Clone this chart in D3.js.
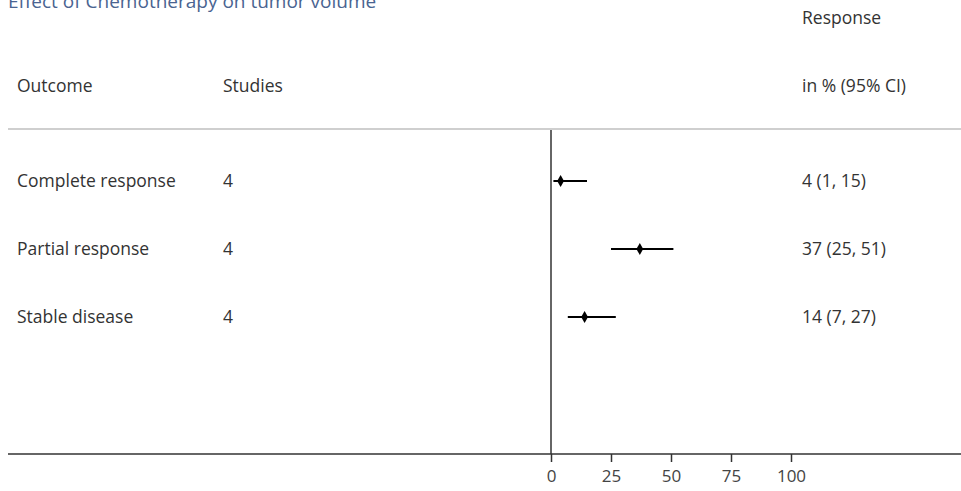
<!DOCTYPE html>
<html>
<head>
<meta charset="utf-8">
<script src="https://cdn.jsdelivr.net/npm/d3@7"></script>
<style>
  html, body { margin: 0; padding: 0; background: #fff; }
  svg { display: block; font-family: "Open Sans", "Noto Sans", sans-serif; }
</style>
</head>
<body>
<div id="chart"></div>
<script>
// data
const outcomes = ["Complete response", "Partial response", "Stable disease"];
const studies = [4, 4, 4];
const estimate = [4, 37, 14];
const lower = [1, 25, 7];
const upper = [15, 51, 27];
const xTicks = [0, 25, 50, 75, 100];

const W = 961, H = 491;
const svg = d3.select("#chart").append("svg")
    .attr("width", W)
    .attr("height", H);

const x = d3.scaleLinear().domain([0, 100]).range([551, 791]);
const y = d3.scalePoint().domain(outcomes).range([181, 317]);

const textColor = "#333";
const fontSize = "17.5px";

// title (partly cut at the top, as in the original)
svg.append("text")
    .attr("x", 8)
    .attr("y", 8)
    .attr("fill", "#4a6491")
    .style("font-size", "19px")
    .text("Effect of Chemotherapy on tumor volume");

// column headers
const hdr = svg.append("g").style("font-size", fontSize).attr("fill", textColor);
hdr.append("text").attr("x", 17).attr("y", 86).attr("dy", "0.35em").text("Outcome");
hdr.append("text").attr("x", 223).attr("y", 86).attr("dy", "0.35em").text("Studies");
hdr.append("text").attr("x", 802).attr("y", 18).attr("dy", "0.35em").text("Response");
hdr.append("text").attr("x", 802).attr("y", 86).attr("dy", "0.35em").text("in % (95% CI)");

// header separator
svg.append("line")
    .attr("x1", 8).attr("x2", W)
    .attr("y1", 129).attr("y2", 129)
    .attr("stroke", "#cfcfcf")
    .attr("stroke-width", 2);

// rows
const rows = svg.append("g").style("font-size", fontSize).attr("fill", textColor);
outcomes.forEach((o, i) => {
    rows.append("text").attr("x", 17).attr("y", y(o)).attr("dy", "0.35em").text(o);
    rows.append("text").attr("x", 223).attr("y", y(o)).attr("dy", "0.35em").text(studies[i]);
    rows.append("text").attr("x", 802).attr("y", y(o)).attr("dy", "0.35em")
        .text(`${estimate[i]} (${lower[i]}, ${upper[i]})`);
});

// x axis
const axisG = svg.append("g")
    .attr("transform", "translate(0,454)")
    .call(d3.axisBottom(x).tickValues(xTicks).tickSize(8).tickPadding(8));
axisG.select(".domain").remove();
axisG.selectAll(".tick line").attr("stroke", "#333").attr("stroke-width", 1.5);
axisG.selectAll(".tick text")
    .attr("fill", "#444")
    .style("font-family", "\"Open Sans\", \"Noto Sans\", sans-serif")
    .style("font-size", "17px");

svg.append("line")
    .attr("x1", 8).attr("x2", W)
    .attr("y1", 454).attr("y2", 454)
    .attr("stroke", "#333")
    .attr("stroke-width", 1.5);

// zero line
svg.append("line")
    .attr("x1", x(0)).attr("x2", x(0))
    .attr("y1", 130).attr("y2", 454)
    .attr("stroke", "#333")
    .attr("stroke-width", 1.5);

// confidence intervals
svg.append("g").selectAll("line")
    .data(outcomes)
    .join("line")
    .attr("x1", (d, i) => x(lower[i]))
    .attr("x2", (d, i) => x(upper[i]))
    .attr("y1", d => y(d))
    .attr("y2", d => y(d))
    .attr("stroke", "#000")
    .attr("stroke-width", 2);

// point estimates (diamonds)
svg.append("g").selectAll("path")
    .data(outcomes)
    .join("path")
    .attr("transform", (d, i) => `translate(${x(estimate[i])},${y(d)})`)
    .attr("d", d3.symbol(d3.symbolDiamond, 40))
    .attr("fill", "#000");
</script>
</body>
</html>
